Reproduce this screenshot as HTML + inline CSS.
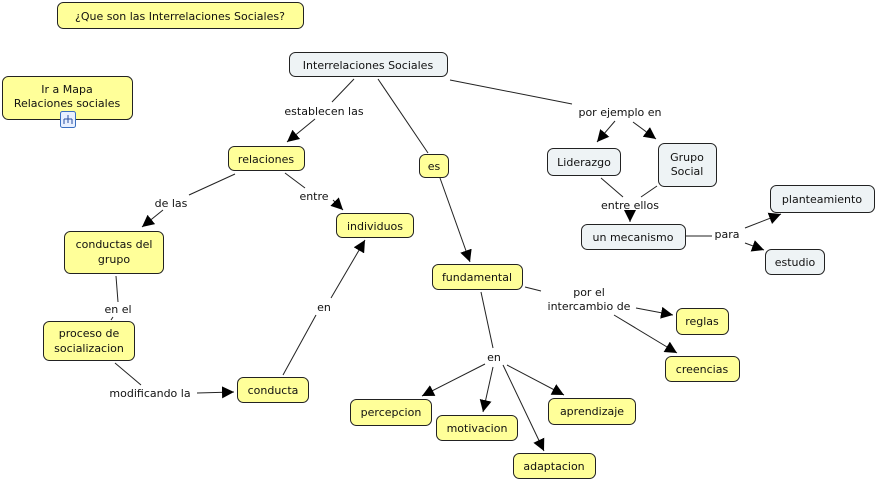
<!DOCTYPE html>
<html><head><meta charset="utf-8"><style>
html,body{margin:0;padding:0;background:#fff;width:876px;height:481px;overflow:hidden}
svg text{font-family:"DejaVu Sans","Liberation Sans",sans-serif;font-size:11px;fill:#111}
</style></head><body>
<svg width="876" height="481" viewBox="0 0 876 481" xmlns="http://www.w3.org/2000/svg">
<defs>
<marker id="a" viewBox="0 0 10 10" refX="10" refY="5" markerWidth="12" markerHeight="12" markerUnits="userSpaceOnUse" orient="auto"><path d="M0,0L10,5L0,10z" fill="#000"/></marker>
</defs>
<g stroke="#222" stroke-width="1" fill="none">
<!-- Interrelaciones -> relaciones -->
<line x1="354" y1="79" x2="332" y2="102"/>
<line x1="315" y1="119" x2="287" y2="142" marker-end="url(#a)"/>
<!-- -> es -->
<line x1="378" y1="79" x2="428" y2="153"/>
<!-- es -> fundamental -->
<line x1="440" y1="178" x2="470" y2="262" marker-end="url(#a)"/>
<!-- Interrelaciones -> por ejemplo -->
<line x1="450" y1="80" x2="572" y2="104"/>
<line x1="615" y1="121" x2="597" y2="142" marker-end="url(#a)"/>
<line x1="633" y1="122" x2="656" y2="139" marker-end="url(#a)"/>
<!-- Liderazgo/Grupo -> entre ellos -> mecanismo -->
<line x1="601" y1="178" x2="623" y2="197"/>
<line x1="657" y1="186" x2="641" y2="197"/>
<line x1="630" y1="212" x2="630" y2="222" marker-end="url(#a)"/>
<!-- mecanismo -> para -->
<line x1="686" y1="236" x2="712" y2="236"/>
<line x1="745" y1="228" x2="781" y2="214" marker-end="url(#a)"/>
<line x1="745" y1="243" x2="764" y2="250" marker-end="url(#a)"/>
<!-- relaciones -> de las -->
<line x1="235" y1="174" x2="189" y2="195"/>
<line x1="163" y1="210" x2="142" y2="227" marker-end="url(#a)"/>
<!-- relaciones -> entre -->
<line x1="285" y1="173" x2="305" y2="188"/>
<line x1="333" y1="200" x2="343" y2="210" marker-end="url(#a)"/>
<!-- conductas -> en el -->
<line x1="116" y1="276" x2="118" y2="302"/>
<line x1="113" y1="317" x2="111" y2="320"/>
<!-- proceso -> modificando -->
<line x1="115" y1="363" x2="141" y2="385"/>
<line x1="197" y1="393" x2="234" y2="392" marker-end="url(#a)"/>
<!-- conducta -> en -> individuos -->
<line x1="283" y1="375" x2="316" y2="315"/>
<line x1="331" y1="298" x2="365" y2="240" marker-end="url(#a)"/>
<!-- fundamental -> por el intercambio -->
<line x1="525" y1="287" x2="541" y2="291"/>
<line x1="636" y1="308" x2="673" y2="315" marker-end="url(#a)"/>
<line x1="614" y1="315" x2="677" y2="353" marker-end="url(#a)"/>
<!-- fundamental -> en -->
<line x1="481" y1="292" x2="493" y2="348"/>
<line x1="485" y1="364" x2="422" y2="396" marker-end="url(#a)"/>
<line x1="493" y1="367" x2="483" y2="412" marker-end="url(#a)"/>
<line x1="503" y1="365" x2="544" y2="451" marker-end="url(#a)"/>
<line x1="507" y1="365" x2="564" y2="395" marker-end="url(#a)"/>
</g>
<g stroke="#222" stroke-width="1">
<rect x="57.5" y="2.5" width="246" height="26" rx="6" fill="#ffff99"/>
<rect x="289.5" y="52.5" width="158" height="24" rx="6" fill="#eef3f5"/>
<rect x="2.5" y="76.5" width="130" height="43" rx="6" fill="#ffff99"/>
<rect x="228.5" y="146.5" width="76" height="24" rx="6" fill="#ffff99"/>
<rect x="419.5" y="154.5" width="29" height="23" rx="6" fill="#ffff99"/>
<rect x="336.5" y="213.5" width="77" height="24" rx="6" fill="#ffff99"/>
<rect x="64.5" y="231.5" width="99" height="42" rx="6" fill="#ffff99"/>
<rect x="43.5" y="321.5" width="91" height="39" rx="6" fill="#ffff99"/>
<rect x="237.5" y="377.5" width="71" height="25" rx="6" fill="#ffff99"/>
<rect x="432.5" y="264.5" width="90" height="25" rx="6" fill="#ffff99"/>
<rect x="676.5" y="308.5" width="52" height="26" rx="6" fill="#ffff99"/>
<rect x="665.5" y="356.5" width="74" height="25" rx="6" fill="#ffff99"/>
<rect x="350.5" y="399.5" width="81" height="26" rx="6" fill="#ffff99"/>
<rect x="436.5" y="415.5" width="81" height="25" rx="6" fill="#ffff99"/>
<rect x="548.5" y="398.5" width="87" height="26" rx="6" fill="#ffff99"/>
<rect x="513.5" y="453.5" width="82" height="25" rx="6" fill="#ffff99"/>
<rect x="547.5" y="148.5" width="73" height="27" rx="6" fill="#eef3f5"/>
<rect x="658.5" y="143.5" width="58" height="43" rx="6" fill="#eef3f5"/>
<rect x="581.5" y="224.5" width="104" height="25" rx="6" fill="#eef3f5"/>
<rect x="770.5" y="185.5" width="104" height="27" rx="6" fill="#eef3f5"/>
<rect x="765.5" y="249.5" width="59" height="25" rx="6" fill="#eef3f5"/>
</g>
<!-- icon -->
<rect x="60.5" y="111.5" width="15" height="16" rx="2" fill="#e8f0ff" stroke="#3a6fc0"/>
<g stroke="#2a4fa0" fill="none"><line x1="68" y1="115" x2="68" y2="123"/><line x1="64" y1="119" x2="72" y2="119"/><line x1="64" y1="119" x2="64" y2="124"/><line x1="72" y1="119" x2="72" y2="124"/></g>
<g text-anchor="middle">
<text x="180" y="20">¿Que son las Interrelaciones Sociales?</text>
<text x="368" y="69">Interrelaciones Sociales</text>
<text x="67" y="93">Ir a Mapa</text>
<text x="67" y="107">Relaciones sociales</text>
<text x="266" y="163">relaciones</text>
<text x="434" y="170">es</text>
<text x="375" y="230">individuos</text>
<text x="114" y="248">conductas del</text>
<text x="114" y="263">grupo</text>
<text x="89" y="337">proceso de</text>
<text x="89" y="352">socializacion</text>
<text x="273" y="394">conducta</text>
<text x="477" y="281">fundamental</text>
<text x="702" y="325">reglas</text>
<text x="702" y="373">creencias</text>
<text x="391" y="416">percepcion</text>
<text x="477" y="432">motivacion</text>
<text x="592" y="415">aprendizaje</text>
<text x="554" y="470">adaptacion</text>
<text x="584" y="166">Liderazgo</text>
<text x="687" y="161">Grupo</text>
<text x="687" y="175">Social</text>
<text x="633" y="241">un mecanismo</text>
<text x="822" y="203">planteamiento</text>
<text x="795" y="266">estudio</text>
<text x="324" y="115">establecen las</text>
<text x="620" y="116">por ejemplo en</text>
<text x="171" y="207">de las</text>
<text x="314" y="200">entre</text>
<text x="118" y="313">en el</text>
<text x="150" y="397">modificando la</text>
<text x="324" y="311">en</text>
<text x="630" y="209">entre ellos</text>
<text x="727" y="238">para</text>
<text x="589" y="296">por el</text>
<text x="589" y="310">intercambio de</text>
<text x="494" y="361">en</text>
</g>
</svg>
</body></html>
